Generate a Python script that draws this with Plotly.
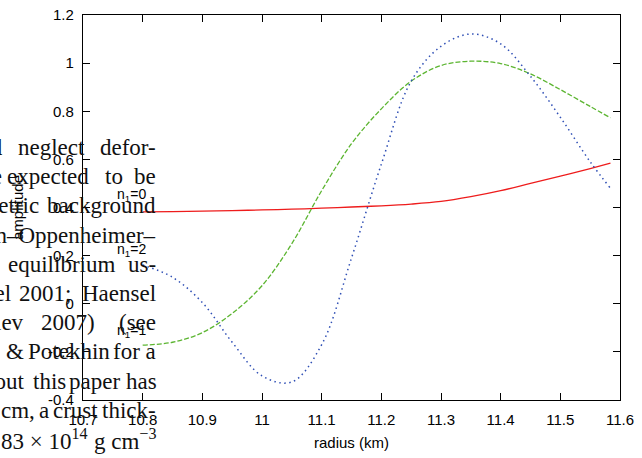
import plotly.graph_objects as go

# Radial grid (km) and mode amplitudes
radius = [10.80, 10.85, 10.90, 10.95, 11.00, 11.05, 11.10, 11.15, 11.20,
          11.25, 11.30, 11.35, 11.40, 11.45, 11.50, 11.55, 11.584]
amp_n0 = [0.382, 0.383, 0.385, 0.387, 0.390, 0.393, 0.397, 0.402, 0.407,
          0.414, 0.425, 0.445, 0.470, 0.500, 0.530, 0.562, 0.584]
amp_n1 = [-0.172, -0.160, -0.120, -0.040, 0.075, 0.250, 0.470, 0.665, 0.810,
          0.925, 0.990, 1.008, 0.998, 0.955, 0.890, 0.820, 0.773]
amp_n2 = [0.161, 0.110, 0.005, -0.160, -0.300, -0.325, -0.170, 0.190, 0.580,
          0.925, 1.070, 1.121, 1.080, 0.945, 0.775, 0.590, 0.480]

x_ticks = [10.7, 10.8, 10.9, 11.0, 11.1, 11.2, 11.3, 11.4, 11.5, 11.6]
x_ticktext = ["10.7", "10.8", "10.9", "11", "11.1", "11.2", "11.3", "11.4", "11.5", "11.6"]
y_ticks = [-0.4, -0.2, 0.0, 0.2, 0.4, 0.6, 0.8, 1.0, 1.2]
y_ticktext = ["-0.4", "-0.2", "0", "0.2", "0.4", "0.6", "0.8", "1", "1.2"]

mode_labels = ["n<sub>1</sub>=0", "n<sub>1</sub>=1", "n<sub>1</sub>=2"]
mode_label_y = [0.452, -0.113, 0.223]

# Text block from the surrounding page, one list of (text, px, anchor) per line
page_lines = [
    [("and", 3.5, "right"), ("neglect", 17, "left"), ("defor-", 157, "right")],
    [("are", 3, "right"), ("expected", 6, "left"), ("to", 104, "left"), ("be", 157, "right")],
    [("symmetric", 40, "right"), ("background", 157, "right")],
    [("Tolman–Oppenheimer–", 157, "right")],
    [("equilibrium", 7, "left"), ("us-", 157, "right")],
    [("Haensel", 12, "right"), ("2001;", 18, "left"), ("Haensel", 157, "right")],
    [("Yakovlev", 25, "right"), ("2007)", 40, "left"), ("(see", 157, "right")],
    [("&", 5, "left"), ("Potekhin", 27, "left"), ("for a", 157, "right")],
    [("throughout", 26, "right"), ("this", 32, "left"), ("paper", 68, "left"), ("has", 158, "right")],
    [("cm,", 0, "left"), ("a", 38, "left"), ("crust", 52, "left"), ("thick-", 157, "right")],
    [("83 × 10<sup>14</sup>", 0, "left"), ("g cm<sup>−3</sup>", 157, "right")],
]

W, H = 642, 458
ML, MR, MT, MB = 83, 22, 15, 58
PW, PH = W - ML - MR, H - MT - MB

AX_FONT = dict(family="Liberation Sans, Arial, sans-serif", size=15, color="#000000")

fig = go.Figure()
fig.add_trace(go.Scatter(x=radius, y=amp_n0, mode="lines", name=mode_labels[0],
                         line=dict(color="#ee1c1c", width=1.3, shape="spline")))
fig.add_trace(go.Scatter(x=radius, y=amp_n1, mode="lines", name=mode_labels[1],
                         line=dict(color="#5cb531", width=1.3, dash="5px,2px", shape="spline")))
fig.add_trace(go.Scatter(x=radius, y=amp_n2, mode="lines", name=mode_labels[2],
                         line=dict(color="#2f4fb5", width=1.5, dash="1.5px,3.5px", shape="spline")))

annotations = []
# mode labels next to the start of each curve
for txt, yv in zip(mode_labels, mode_label_y):
    annotations.append(dict(x=10.782, y=yv, xref="x", yref="y", text=txt, showarrow=False,
                            xanchor="center", yanchor="middle",
                            font=dict(family="Liberation Sans, Arial, sans-serif", size=14,
                                      color="#000000")))

# page text overlay
SERIF = dict(family="Liberation Serif, Times New Roman, serif", size=23, color="#111111")
base0, step = 154, 29.2
for i, segs in enumerate(page_lines):
    py = base0 + i * step - 6.5
    for txt, px, anchor in segs:
        annotations.append(dict(x=(px - ML) / PW, y=(H - MB - py) / PH, xref="paper", yref="paper",
                                text=txt, showarrow=False, xanchor=anchor, yanchor="middle",
                                font=SERIF, borderpad=0))

fig.update_layout(
    width=W, height=H,
    margin=dict(l=ML, r=MR, t=MT, b=MB, autoexpand=False),
    paper_bgcolor="white", plot_bgcolor="white",
    showlegend=False,
    annotations=annotations,
    xaxis=dict(range=[10.7, 11.6], tickvals=x_ticks, ticktext=x_ticktext, automargin=False,
               ticks="inside", ticklen=7, tickwidth=1, tickcolor="#000000",
               showline=True, linecolor="#000000", linewidth=1.3, mirror="ticks",
               showgrid=False, zeroline=False, tickfont=AX_FONT, ticklabelstandoff=6,
               title=dict(text="radius (km)", font=AX_FONT, standoff=10)),
    yaxis=dict(range=[-0.4, 1.2], tickvals=y_ticks, ticktext=y_ticktext, automargin=False,
               ticks="inside", ticklen=7, tickwidth=1, tickcolor="#000000",
               showline=True, linecolor="#000000", linewidth=1.3, mirror="ticks",
               showgrid=False, zeroline=False, tickfont=AX_FONT, ticklabelstandoff=5,
               title=dict(text="amplitude", font=dict(family="Liberation Sans, Arial, sans-serif",
                                                      size=15, color="#000000"), standoff=20)),
)

fig.write_html("out.html")
